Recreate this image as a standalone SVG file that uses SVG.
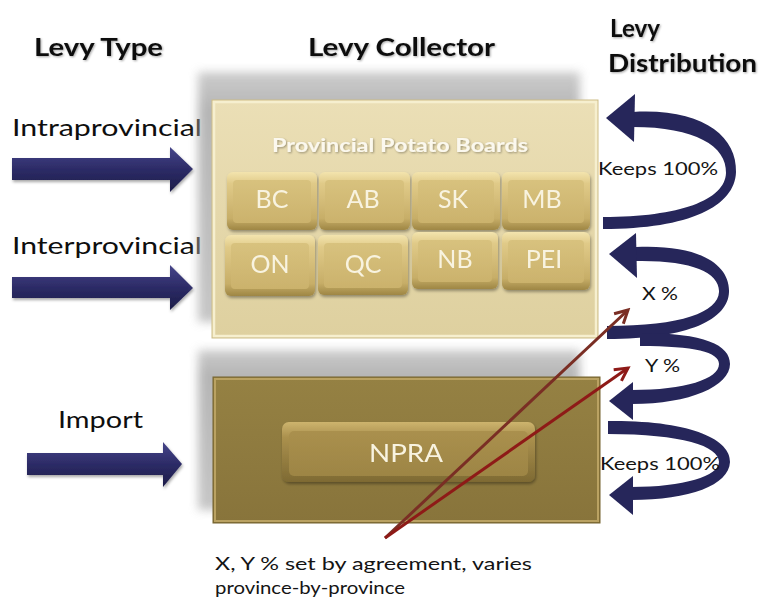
<svg xmlns="http://www.w3.org/2000/svg" width="760" height="602" viewBox="0 0 760 602">
  <defs>
    <style>
      .hdr { font-family: Lato, "Open Sans", "Liberation Sans", sans-serif; font-weight: 700; font-size: 25px; fill: #0e0e0e; }
      .lbl { font-family: Lato, "Open Sans", "Liberation Sans", sans-serif; font-size: 23px; fill: #0e0e0e; }
      .note { font-family: Lato, "Open Sans", "Liberation Sans", sans-serif; font-size: 18px; fill: #141414; }
      .btxt { font-family: Lato, "Open Sans", "Liberation Sans", sans-serif; font-size: 25px; fill: #f8f3e0; text-anchor: middle; }
      .title { font-family: Lato, "Open Sans", "Liberation Sans", sans-serif; font-weight: 700; font-size: 18px; fill: #fbf8ee; text-anchor: middle; }
      .curl { fill: #26265a; }
      .navy { fill: url(#navyGrad); }
    </style>
    <linearGradient id="navyGrad" x1="0" y1="0" x2="0" y2="1">
      <stop offset="0" stop-color="#46458a"/>
      <stop offset="0.5" stop-color="#2c2b66"/>
      <stop offset="1" stop-color="#1c1c48"/>
    </linearGradient>
    <linearGradient id="topBox" x1="0" y1="0" x2="0" y2="1">
      <stop offset="0" stop-color="#ebdfb6"/>
      <stop offset="1" stop-color="#ded09f"/>
    </linearGradient>
    <linearGradient id="botBox" x1="0" y1="0" x2="0" y2="1">
      <stop offset="0" stop-color="#958143"/>
      <stop offset="1" stop-color="#88743b"/>
    </linearGradient>
    <linearGradient id="btnEdge" x1="0" y1="0" x2="0" y2="1">
      <stop offset="0" stop-color="#f3e4ae"/>
      <stop offset="0.2" stop-color="#e0ca88"/>
      <stop offset="0.8" stop-color="#c7ae68"/>
      <stop offset="1" stop-color="#9e8644"/>
    </linearGradient>
    <linearGradient id="btnFace" x1="0" y1="0" x2="0" y2="1">
      <stop offset="0" stop-color="#d8c27e"/>
      <stop offset="1" stop-color="#cbb26c"/>
    </linearGradient>
    <linearGradient id="npraEdge" x1="0" y1="0" x2="0" y2="1">
      <stop offset="0" stop-color="#cdb46e"/>
      <stop offset="0.25" stop-color="#ab914e"/>
      <stop offset="1" stop-color="#7e6a33"/>
    </linearGradient>
    <linearGradient id="npraFace" x1="0" y1="0" x2="0" y2="1">
      <stop offset="0" stop-color="#aa904e"/>
      <stop offset="1" stop-color="#9d8544"/>
    </linearGradient>
    <linearGradient id="shadeGrad" x1="0" y1="0" x2="0" y2="1">
      <stop offset="0" stop-color="#c4c4c4"/>
      <stop offset="0.15" stop-color="#a9a9a9"/>
      <stop offset="1" stop-color="#bdbdbd"/>
    </linearGradient>
    <filter id="boxShadow" x="-20%" y="-30%" width="140%" height="160%">
      <feGaussianBlur stdDeviation="5"/>
    </filter>
    <filter id="soft" x="-20%" y="-40%" width="140%" height="180%">
      <feDropShadow dx="1" dy="2" stdDeviation="1.5" flood-color="#000" flood-opacity="0.35"/>
    </filter>
    <filter id="txtShadow" x="-5%" y="-20%" width="110%" height="140%">
      <feDropShadow dx="1" dy="1" stdDeviation="0.8" flood-color="#000" flood-opacity="0.35"/>
    </filter>
    <marker id="headBrown" viewBox="0 0 12 12" refX="10" refY="6" markerWidth="6" markerHeight="6" orient="auto" markerUnits="strokeWidth">
      <path d="M1.5,1.5 L10,6 L1.5,10.5" fill="none" stroke="#7a2e24" stroke-width="2"/>
    </marker>
    <marker id="headRed" viewBox="0 0 12 12" refX="10" refY="6" markerWidth="6" markerHeight="6" orient="auto" markerUnits="strokeWidth">
      <path d="M1.5,1.5 L10,6 L1.5,10.5" fill="none" stroke="#8e1a17" stroke-width="2"/>
    </marker>
  </defs>

  <rect width="760" height="602" fill="#ffffff"/>

  <!-- column headings -->
  <g id="headings" filter="url(#txtShadow)">
    <text class="hdr" x="34" y="56" textLength="129" lengthAdjust="spacingAndGlyphs">Levy Type</text>
    <text class="hdr" x="308" y="56" textLength="187" lengthAdjust="spacingAndGlyphs">Levy Collector</text>
    <text class="hdr" x="610" y="37" textLength="50" lengthAdjust="spacingAndGlyphs">Levy</text>
    <text class="hdr" x="608" y="72" textLength="149" lengthAdjust="spacingAndGlyphs">Distribution</text>
  </g>

  <!-- levy types -->
  <g id="intraprovincial">
    <text class="lbl" x="12" y="136" textLength="190" lengthAdjust="spacingAndGlyphs">Intraprovincial</text>
    <path class="navy" filter="url(#soft)" d="M12,158 H170 V147 L193,169 L170,192 V180 H12 Z"/>
  </g>
  <g id="interprovincial">
    <text class="lbl" x="12" y="254" textLength="190" lengthAdjust="spacingAndGlyphs">Interprovincial</text>
    <path class="navy" filter="url(#soft)" d="M12,277 H170 V265 L193,288 L170,310 V298 H12 Z"/>
  </g>
  <g id="import">
    <text class="lbl" x="58" y="428" textLength="85" lengthAdjust="spacingAndGlyphs">Import</text>
    <path class="navy" filter="url(#soft)" d="M27,453 H163 V442 L182,464 L163,487 V475 H27 Z"/>
  </g>

  <!-- provincial boards panel -->
  <g id="provincial-boards">
    <rect x="198" y="72" width="382" height="250" fill="url(#shadeGrad)" opacity="0.85" filter="url(#boxShadow)"/>
    <rect x="212" y="100" width="386" height="238" fill="url(#topBox)" stroke="#cdbd88" stroke-width="1"/>
    <rect x="214" y="102" width="382" height="234" fill="none" stroke="#f6efcf" stroke-width="2.5"/>
    <text class="title" x="400" y="152" filter="url(#txtShadow)" textLength="256" lengthAdjust="spacingAndGlyphs">Provincial Potato Boards</text>

    <g id="board-bc" filter="url(#soft)">
      <rect x="227" y="172" width="90" height="58" rx="6" fill="url(#btnEdge)"/>
      <rect x="233" y="180" width="78" height="43" rx="4" fill="url(#btnFace)"/>
      <text class="btxt" x="272" y="208">BC</text>
    </g>
    <g id="board-ab" filter="url(#soft)">
      <rect x="319" y="172" width="91" height="58" rx="6" fill="url(#btnEdge)"/>
      <rect x="325" y="180" width="79" height="43" rx="4" fill="url(#btnFace)"/>
      <text class="btxt" x="363" y="208">AB</text>
    </g>
    <g id="board-sk" filter="url(#soft)">
      <rect x="412" y="172" width="88" height="58" rx="6" fill="url(#btnEdge)"/>
      <rect x="418" y="180" width="76" height="43" rx="4" fill="url(#btnFace)"/>
      <text class="btxt" x="453" y="208">SK</text>
    </g>
    <g id="board-mb" filter="url(#soft)">
      <rect x="502" y="172" width="88" height="58" rx="6" fill="url(#btnEdge)"/>
      <rect x="508" y="180" width="76" height="43" rx="4" fill="url(#btnFace)"/>
      <text class="btxt" x="542" y="208">MB</text>
    </g>
    <g id="board-on" filter="url(#soft)">
      <rect x="225" y="235" width="90" height="61" rx="6" fill="url(#btnEdge)"/>
      <rect x="231" y="243" width="78" height="46" rx="4" fill="url(#btnFace)"/>
      <text class="btxt" x="270" y="273">ON</text>
    </g>
    <g id="board-qc" filter="url(#soft)">
      <rect x="318" y="235" width="90" height="60" rx="6" fill="url(#btnEdge)"/>
      <rect x="324" y="243" width="78" height="45" rx="4" fill="url(#btnFace)"/>
      <text class="btxt" x="363" y="273">QC</text>
    </g>
    <g id="board-nb" filter="url(#soft)">
      <rect x="412" y="232" width="86" height="57" rx="6" fill="url(#btnEdge)"/>
      <rect x="418" y="240" width="74" height="42" rx="4" fill="url(#btnFace)"/>
      <text class="btxt" x="455" y="268">NB</text>
    </g>
    <g id="board-pei" filter="url(#soft)">
      <rect x="502" y="232" width="88" height="58" rx="6" fill="url(#btnEdge)"/>
      <rect x="508" y="240" width="76" height="43" rx="4" fill="url(#btnFace)"/>
      <text class="btxt" x="544" y="268">PEI</text>
    </g>
  </g>

  <!-- national agency panel -->
  <g id="npra-panel">
    <rect x="198" y="350" width="382" height="160" fill="url(#shadeGrad)" opacity="0.85" filter="url(#boxShadow)"/>
    <rect x="213" y="377" width="387" height="146" fill="url(#botBox)" stroke="#75632f" stroke-width="1"/>
    <rect x="215" y="379" width="383" height="142" fill="none" stroke="#baa262" stroke-width="2"/>
    <g id="npra" filter="url(#soft)">
      <rect x="282" y="422" width="253" height="60" rx="7" fill="url(#npraEdge)"/>
      <rect x="289" y="431" width="239" height="45" rx="5" fill="url(#npraFace)"/>
      <text class="btxt" x="406" y="462" textLength="74" lengthAdjust="spacingAndGlyphs">NPRA</text>
    </g>
  </g>

  <!-- distribution curls and agreement arrows -->
  <g id="connectors">
    <g id="curl-keeps-top">
      <path class="curl" d="M633,112 C702,108 737,136 736,172 C735,206 690,229 603,229 L603,217 C680,217 725,200 726,173 C727,146 695,127 633,127 Z"/>
      <path class="curl" d="M606,118 L635,94 L634,142 Z"/>
    </g>
    <g id="curl-x">
      <path class="curl" d="M636,247 C700,244 730,265 729,292 C728,319 690,339 607,339 L607,326 C682,326 718,312 719,292 C720,272 690,260 636,261 Z"/>
      <path class="curl" d="M609,254 L636,233 L637,278 Z"/>
    </g>
    <g id="curl-y">
      <path class="curl" d="M640,333 C705,333 730,345 730,364 C730,386 690,404 632,404 L632,390 C685,390 719,379 719,364 C719,352 695,346 640,346 Z"/>
      <path class="curl" d="M609,401 L633,382 L633,420 Z"/>
    </g>
    <g id="curl-keeps-bottom">
      <path class="curl" d="M608,421 C692,420 731,440 730,462 C729,485 690,500 631,500 L631,487 C684,487 719,476 719,462 C719,446 682,434 608,434 Z"/>
      <path class="curl" d="M609,495 L633,476 L633,515 Z"/>
    </g>

    <line x1="385" y1="538" x2="628" y2="310" stroke="#7a2e24" stroke-width="3" marker-end="url(#headBrown)"/>
    <line x1="385" y1="538" x2="628" y2="368" stroke="#8e1a17" stroke-width="3" marker-end="url(#headRed)"/>
  </g>

  <!-- distribution labels -->
  <g id="distribution-labels">
    <text class="note" x="598" y="175" textLength="120" lengthAdjust="spacingAndGlyphs">Keeps 100%</text>
    <text class="note" x="642" y="300" textLength="36" lengthAdjust="spacingAndGlyphs">X %</text>
    <text class="note" x="645" y="372" textLength="35" lengthAdjust="spacingAndGlyphs">Y %</text>
    <text class="note" x="600" y="470" textLength="120" lengthAdjust="spacingAndGlyphs">Keeps 100%</text>
  </g>

  <g id="agreement-note">
    <text class="note" x="215" y="570" font-size="19" textLength="317" lengthAdjust="spacingAndGlyphs">X, Y % set by agreement, varies</text>
    <text class="note" x="215" y="594" font-size="19" textLength="190" lengthAdjust="spacingAndGlyphs">province-by-province</text>
  </g>
</svg>
